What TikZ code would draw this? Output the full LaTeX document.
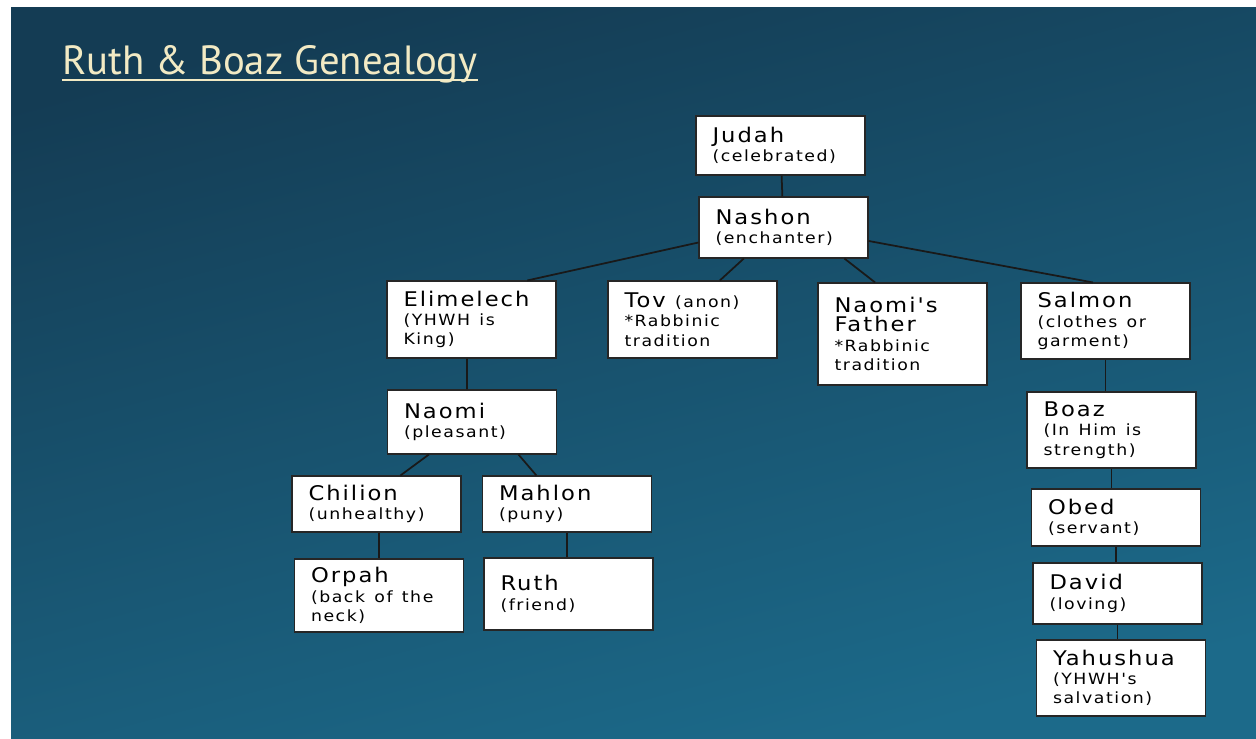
\documentclass[tikz,border=0pt]{standalone}
\usepackage{fontspec}
\setmainfont{DejaVu Sans}
\newfontfamily\boxfont{DejaVu Sans}[FakeStretch=1.12, LetterSpace=10]
\newfontfamily\titlefont{PT Sans}
\definecolor{bgtop}{RGB}{20,60,84}
\definecolor{bgbottom}{RGB}{28,106,138}
\definecolor{titlecream}{RGB}{242,234,196}
\newcommand{\pname}[1]{{\fontsize{11.5}{11}\selectfont #1}}
\newcommand{\wsp}{\hspace{0.6em}}
\tikzset{
  person/.style={draw=black!85, fill=white, line width=0.6pt, align=left,
    text width=2.72cm, inner xsep=0.33cm, inner ysep=0pt,
    font=\boxfont\fontsize{8.8}{11}\selectfont},
  link/.style={line width=1pt, black!90}
}
\begin{document}
\begin{tikzpicture}[x=0.2mm, y=-0.2mm]
    \useasboundingbox (0,0) rectangle (1256,739);
    \fill[white] (0,0) rectangle (1256,739);
    \shade[top color=bgtop, bottom color=bgbottom, shading angle=15] (11,8) rectangle (1256,739);

    \node[font=\titlefont\fontsize{23.2}{24}\selectfont, text=titlecream, anchor=base west, inner sep=0pt] (title) at (62,75) {Ruth \& Boaz Genealogy};
    \draw[titlecream, line width=0.9pt] ([yshift=-0.1cm]title.base west) -- ([yshift=-0.1cm]title.base east);

    \node[person, minimum height=1.18cm] (judah) at (780.5,145.5) {\pname{Judah}\\(celebrated)};
    \node[person, minimum height=1.22cm] (nashon) at (783.5,227.5) {\pname{Nashon}\\(enchanter)};

    \node[person, minimum height=1.54cm] (elimelech) at (471.5,319.5) {\pname{Elimelech}\\(YHWH\wsp is\\King)};
    \node[person, minimum height=1.54cm] (tov) at (692.5,319.5) {\pname{Tov}\wsp(anon)\\{*}Rabbinic\\tradition};
    \node[person, minimum height=2.04cm] (nfather) at (902.5,334) {\pname{Naomi's}\\\pname{Father}\\{*}Rabbinic\\tradition};
    \node[person, minimum height=1.52cm] (salmon) at (1105.5,321) {\pname{Salmon}\\(clothes\wsp or\\garment)};

    \node[person, minimum height=1.28cm] (naomi) at (472,422) {\pname{Naomi}\\(pleasant)};
    \node[person, minimum height=1.12cm] (chilion) at (376.5,504) {\pname{Chilion}\\(unhealthy)};
    \node[person, minimum height=1.12cm] (mahlon) at (567,504) {\pname{Mahlon}\\(puny)};
    \node[person, minimum height=1.46cm] (orpah) at (379,595.5) {\pname{Orpah}\\(back\wsp of\wsp the\\neck)};
    \node[person, minimum height=1.44cm] (ruth) at (568.5,594) {\pname{Ruth}\\(friend)};

    \node[person, minimum height=1.52cm] (boaz) at (1111.5,430) {\pname{Boaz}\\(In\wsp Him\wsp is\\strength)};
    \node[person, minimum height=1.14cm] (obed) at (1116,517.5) {\pname{Obed}\\(servant)};
    \node[person, minimum height=1.22cm] (david) at (1117.5,593.5) {\pname{David}\\(loving)};
    \node[person, minimum height=1.52cm] (yahushua) at (1121,678) {\pname{Yahushua}\\(YHWH's\\salvation)};

    \draw[link] (judah) -- (nashon);
    \draw[link] (nashon.190) -- (elimelech.35);
    \draw[link] (nashon.218) -- (tov.55);
    \draw[link] (nashon.-27) -- (nfather.118);
    \draw[link] (nashon.-9) -- (salmon.108);

    \draw[link] ([xshift=-0.09cm]elimelech.south) -- ([xshift=-0.1cm]naomi.north);
    \draw[link] (naomi.217) -- (chilion.50);
    \draw[link] (naomi.-35) -- (mahlon.137);
    \draw[link] (orpah.north |- chilion.south) -- (orpah.north);
    \draw[link] (mahlon.south) -- (mahlon.south |- ruth.north);

    \draw[link] (salmon.south) -- (salmon.south |- boaz.north);
    \draw[link] (boaz.south) -- (boaz.south |- obed.north);
    \draw[link] (obed.south) -- (obed.south |- david.north);
    \draw[link] (david.south) -- (david.south |- yahushua.north);
\end{tikzpicture}
\end{document}
